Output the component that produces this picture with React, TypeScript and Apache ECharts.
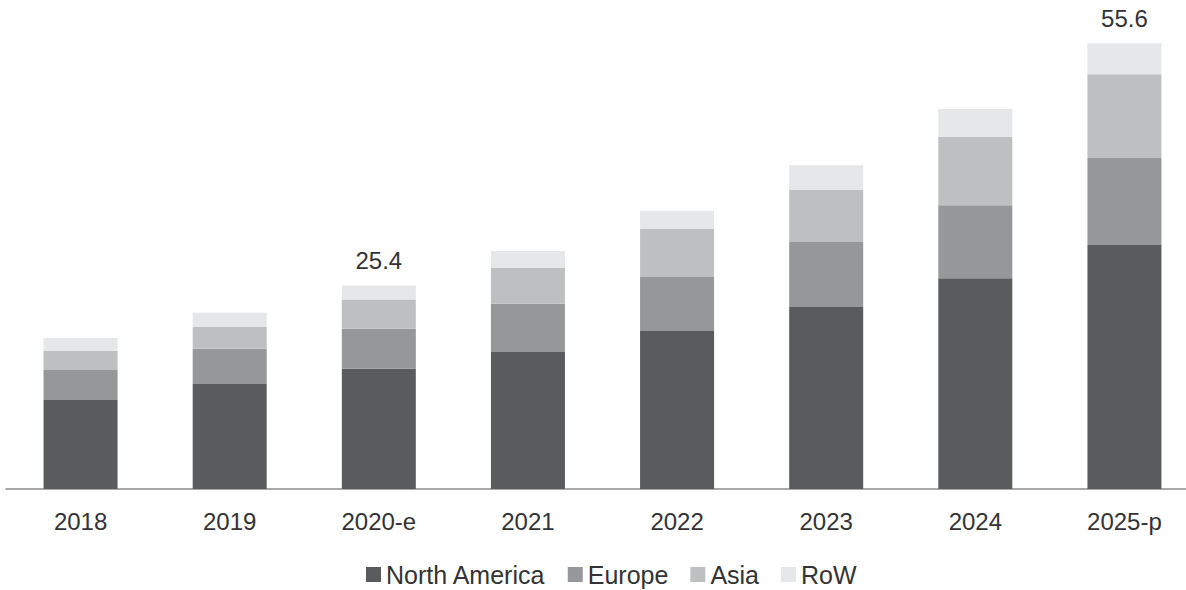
import React, { useEffect, useRef } from "react";
import * as echarts from "echarts";

const categories = ["2018", "2019", "2020-e", "2021", "2022", "2023", "2024", "2025-p"];
const northAmerica = [11.1, 13.1, 15.0, 17.1, 19.7, 22.7, 26.3, 30.45];
const europe = [3.75, 4.4, 5.0, 6.0, 6.75, 8.1, 9.1, 10.85];
const asia = [2.4, 2.75, 3.65, 4.5, 6.0, 6.5, 8.5, 10.45];
const row = [1.6, 1.75, 1.75, 2.1, 2.25, 3.1, 3.5, 3.85];
const totalLabels: (string | null)[] = [null, null, "25.4", null, null, null, null, "55.6"];

const colors = ["#5a5b5d", "#969799", "#bebfc1", "#e6e7e8"];
const FONT = "'Liberation Sans', Arial, Helvetica, sans-serif";

export default function App() {
  const ref = useRef<HTMLDivElement>(null);
  useEffect(() => {
    if (!ref.current) return;
    const chart = echarts.init(ref.current, undefined, { renderer: "svg" });
    const mk = (name: string, data: number[], color: string, withLabel: boolean) => ({
      name,
      type: "bar",
      stack: "total",
      data,
      barWidth: 74,
      itemStyle: { color },
      label: withLabel
        ? {
            show: true,
            position: "top",
            distance: 13,
            fontSize: 24,
            color: "#333",
            fontFamily: FONT,
            formatter: (p: any) => totalLabels[p.dataIndex] ?? "",
          }
        : { show: false },
    });
    chart.setOption({
      animation: false,
      textStyle: { fontFamily: FONT },
      grid: {
        left: 6,
        width: 1193,
        top: 8,
        bottom: 101,
        containLabel: false,
        outerBoundsMode: "none",
      },
      xAxis: {
        type: "category",
        data: categories,
        axisLine: { show: true, lineStyle: { color: "#8c8c8c", width: 1.5 } },
        axisTick: { show: false },
        axisLabel: { fontSize: 24, color: "#333", margin: 20, fontFamily: FONT },
      },
      yAxis: {
        type: "value",
        min: 0,
        max: 60,
        show: false,
        splitLine: { show: false },
      },
      legend: {
        data: ["North America", "Europe", "Asia", "RoW"],
        top: 562,
        left: 366,
        padding: 0,
        icon: "rect",
        itemWidth: 15,
        itemHeight: 15,
        itemGap: 22,
        textStyle: { fontSize: 25, color: "#333", fontFamily: FONT },
      },
      series: [
        mk("North America", northAmerica, colors[0], false),
        mk("Europe", europe, colors[1], false),
        mk("Asia", asia, colors[2], false),
        mk("RoW", row, colors[3], true),
      ],
    });
    return () => chart.dispose();
  }, []);
  return (
    <div
      ref={ref}
      style={{ position: "fixed", left: 0, top: 0, width: 1186, height: 590, background: "#fff" }}
    />
  );
}
